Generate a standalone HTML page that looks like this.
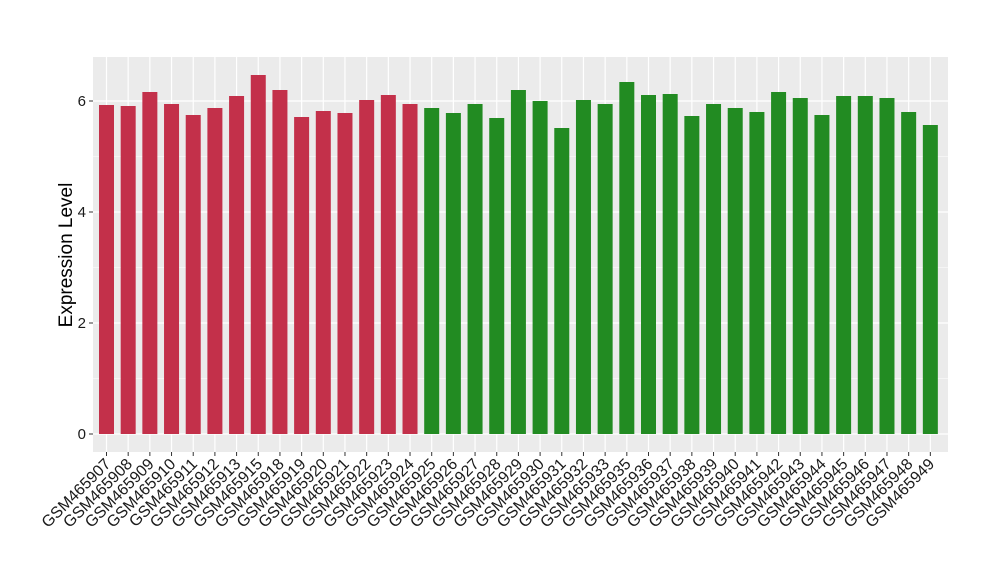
<!DOCTYPE html>
<html><head><style>body{margin:0;background:#fff}</style></head><body>
<svg width="1000" height="580" xmlns="http://www.w3.org/2000/svg" font-family="Liberation Sans, Arial, sans-serif">
<rect x="93" y="57" width="855" height="395" fill="#EBEBEB"/>
<g stroke="#fff" stroke-width="0.6">
<line x1="93" x2="948" y1="378.5" y2="378.5"/><line x1="93" x2="948" y1="267.5" y2="267.5"/><line x1="93" x2="948" y1="156.5" y2="156.5"/>
</g>
<g stroke="#fff" stroke-width="1.2">
<line x1="93" x2="948" y1="434" y2="434"/><line x1="93" x2="948" y1="323" y2="323"/><line x1="93" x2="948" y1="212" y2="212"/><line x1="93" x2="948" y1="101" y2="101"/>
</g>
<g id="bars"></g>
<g font-size="15" fill="#1a1a1a" text-anchor="end">
<text x="86" y="439">0</text><text x="86" y="328">2</text><text x="86" y="217">4</text><text x="86" y="106">6</text>
</g>
<g stroke="#333" stroke-width="1">
<line x1="89" x2="93" y1="434" y2="434"/><line x1="89" x2="93" y1="323" y2="323"/><line x1="89" x2="93" y1="212" y2="212"/><line x1="89" x2="93" y1="101" y2="101"/>
</g>
<text transform="translate(72,255) rotate(-90)" font-size="19" text-anchor="middle" fill="#000">Expression Level</text>
<g id="xl" font-size="16" fill="#1a1a1a" text-anchor="end"></g>
</svg>
<script>
var tops=[105,106,92,104,115,108,96,75,90,117,111,113,100,95,104,108,113,104,118,90,101,128,100,104,82,95,94,116,104,108,112,92,98,115,96,96,98,112,125];
var names=["GSM465907","GSM465908","GSM465909","GSM465910","GSM465911","GSM465912","GSM465913","GSM465915","GSM465918","GSM465919","GSM465920","GSM465921","GSM465922","GSM465923","GSM465924","GSM465925","GSM465926","GSM465927","GSM465928","GSM465929","GSM465930","GSM465931","GSM465932","GSM465933","GSM465935","GSM465936","GSM465937","GSM465938","GSM465939","GSM465940","GSM465941","GSM465942","GSM465943","GSM465944","GSM465945","GSM465946","GSM465947","GSM465948","GSM465949"];
var ns="http://www.w3.org/2000/svg",b=document.getElementById("bars"),xl=document.getElementById("xl");
var svg=b.parentNode;
for(var i=0;i<39;i++){var c=106.5+i*21.68;
var g=document.createElementNS(ns,"line");g.setAttribute("x1",c);g.setAttribute("x2",c);g.setAttribute("y1",57);g.setAttribute("y2",452);g.setAttribute("stroke","#fff");g.setAttribute("stroke-width","1.2");svg.insertBefore(g,b);
var r=document.createElementNS(ns,"rect");r.setAttribute("x",c-7.5);r.setAttribute("width",15);r.setAttribute("y",tops[i]);r.setAttribute("height",434-tops[i]);r.setAttribute("fill",i<15?"#C3304A":"#228B22");b.appendChild(r);
var t=document.createElementNS(ns,"line");t.setAttribute("x1",c);t.setAttribute("x2",c);t.setAttribute("y1",452);t.setAttribute("y2",456);t.setAttribute("stroke","#333");svg.appendChild(t);
var tx=document.createElementNS(ns,"text");tx.setAttribute("x",c+5);tx.setAttribute("y",465);tx.setAttribute("transform","rotate(-45,"+(c+5)+",465)");tx.textContent=names[i];xl.appendChild(tx);}
</script>
</body></html>
